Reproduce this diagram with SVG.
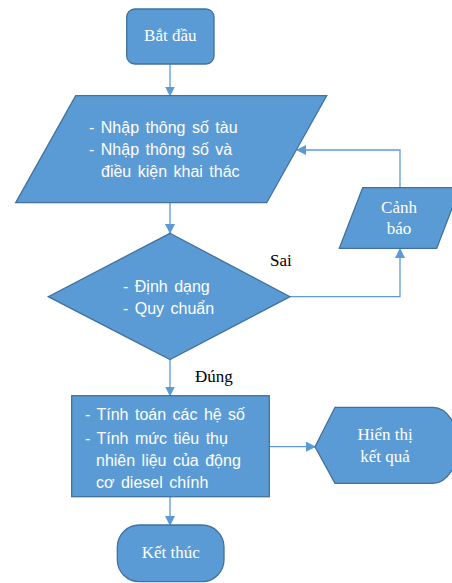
<svg xmlns="http://www.w3.org/2000/svg" width="452" height="583" viewBox="0 0 452 583">
<defs>
<style>
.shape{fill:#5B9BD5;stroke:#41719C;stroke-width:1.3}
.serif{font-family:"Liberation Serif","Times New Roman",serif;font-size:17px;fill:#fff}
.sans{font-family:"Liberation Sans",Arial,sans-serif;font-size:16px;fill:#fff;word-spacing:2px}
.lbl{font-family:"Liberation Serif","Times New Roman",serif;font-size:17px;fill:#000}
.conn{fill:none;stroke:#5B9BD5;stroke-width:1.3}
</style>
<marker id="arr" markerWidth="10" markerHeight="10" refX="9" refY="5" orient="auto" markerUnits="userSpaceOnUse">
<path d="M0,0 L10,5 L0,10 Z" fill="#5B9BD5"/>
</marker>
</defs>
<rect width="452" height="583" fill="#fff"/>
<g id="connectors">
<line class="conn" x1="170" y1="64" x2="170" y2="95.5" marker-end="url(#arr)"/>
<line class="conn" x1="170" y1="203" x2="170" y2="233" marker-end="url(#arr)"/>
<line class="conn" x1="170" y1="359.5" x2="170" y2="395.5" marker-end="url(#arr)"/>
<line class="conn" x1="170" y1="497" x2="170" y2="525" marker-end="url(#arr)"/>
<polyline class="conn" points="290,296.7 400,296.7 400,249" marker-end="url(#arr)"/>
<polyline class="conn" points="400,188 400,150 297,150" marker-end="url(#arr)"/>
<line class="conn" x1="269.5" y1="446.7" x2="315" y2="446.7" marker-end="url(#arr)"/>
</g>
<g id="start">
<rect class="shape" x="126.7" y="9" width="87.3" height="55" rx="8"/>
<text class="serif" x="170.3" y="41" text-anchor="middle">Bắt đầu</text>
</g>
<g id="input">
<polygon class="shape" points="75.7,95.7 326.7,95.7 266.7,202.7 15.7,202.7"/>
<text class="sans" x="89" y="133">- Nhập thông số tàu</text>
<text class="sans" x="89" y="155">- Nhập thông số và</text>
<text class="sans" x="101" y="177">điều kiện khai thác</text>
</g>
<g id="warning">
<polygon class="shape" points="362.7,187.7 460,187.7 436.7,248.3 339.3,248.3"/>
<text class="serif" x="399" y="213" text-anchor="middle">Cảnh</text>
<text class="serif" x="399" y="234" text-anchor="middle">báo</text>
</g>
<g id="decision">
<polygon class="shape" points="170,233.3 290,296.7 170,359.5 48.3,296.7"/>
<text class="sans" x="123" y="292">- Định dạng</text>
<text class="sans" x="123" y="314">- Quy chuẩn</text>
</g>
<text class="lbl" x="270" y="266">Sai</text>
<text class="lbl" x="195" y="382">Đúng</text>
<g id="process">
<rect class="shape" x="71.7" y="395.7" width="197.6" height="101"/>
<text class="sans" x="85" y="419.5">- Tính toán các hệ số</text>
<text class="sans" x="85" y="443.5">- Tính mức tiêu thụ</text>
<text class="sans" x="96" y="465.5">nhiên liệu của động</text>
<text class="sans" x="96" y="487.5">cơ diesel chính</text>
</g>
<g id="display">
<path class="shape" d="M315,446.7 L335,407.3 L433,407.3 A25 38 0 0 1 433,483.3 L335,483.3 Z"/>
<text class="serif" x="385" y="440" text-anchor="middle">Hiển thị</text>
<text class="serif" x="385" y="462" text-anchor="middle">kết quả</text>
</g>
<g id="end">
<rect class="shape" x="117.3" y="525" width="106.7" height="56.7" rx="22"/>
<text class="serif" x="170.7" y="558" text-anchor="middle">Kết thúc</text>
</g>
</svg>
